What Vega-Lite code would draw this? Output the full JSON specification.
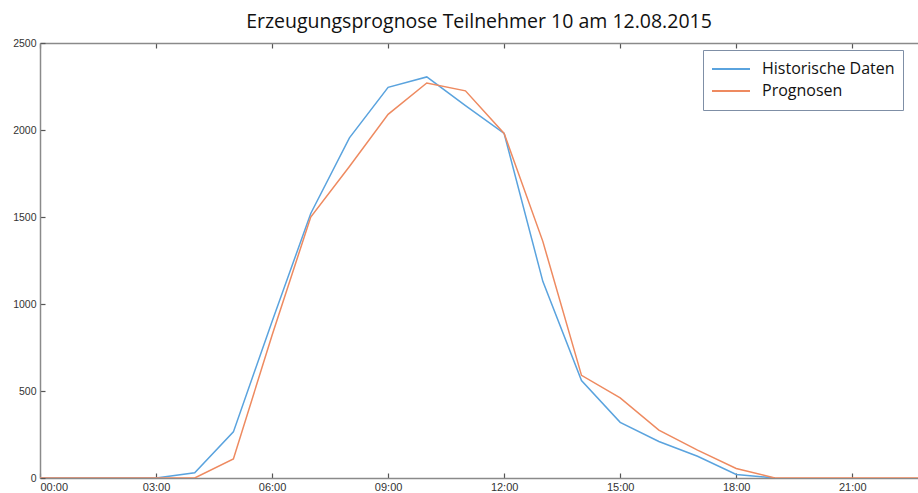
{
  "$schema": "https://vega.github.io/schema/vega-lite/v6.json",
  "autosize": "none",
  "width": 878,
  "height": 435,
  "padding": {"left": 40, "top": 43, "right": 0, "bottom": 15},
  "background": "white",
  "title": {"text": "Erzeugungsprognose Teilnehmer 10 am 12.08.2015", "font": "Open Sans", "fontSize": 19.5, "fontWeight": "normal", "color": "#111", "anchor": "middle", "offset": 6},
  "config": {
    "view": {"stroke": null},
    "axis": {"grid": false, "domainColor": "#8a8a8a", "domainWidth": 1.5, "tickColor": "#555", "tickWidth": 1.2, "labelFont": "Liberation Sans", "labelFontSize": 10.5, "labelColor": "#333", "title": null}
  },
  "data": {"values": [
    {"h":0,"v":0,"s":"Historische Daten"},{"h":1,"v":0,"s":"Historische Daten"},{"h":2,"v":0,"s":"Historische Daten"},{"h":3,"v":0,"s":"Historische Daten"},
    {"h":4,"v":30,"s":"Historische Daten"},{"h":5,"v":265,"s":"Historische Daten"},{"h":6,"v":900,"s":"Historische Daten"},{"h":7,"v":1520,"s":"Historische Daten"},
    {"h":8,"v":1955,"s":"Historische Daten"},{"h":9,"v":2245,"s":"Historische Daten"},{"h":10,"v":2305,"s":"Historische Daten"},{"h":11,"v":2140,"s":"Historische Daten"},
    {"h":12,"v":1980,"s":"Historische Daten"},{"h":13,"v":1130,"s":"Historische Daten"},{"h":14,"v":560,"s":"Historische Daten"},{"h":15,"v":320,"s":"Historische Daten"},
    {"h":16,"v":210,"s":"Historische Daten"},{"h":17,"v":125,"s":"Historische Daten"},{"h":18,"v":20,"s":"Historische Daten"},{"h":19,"v":0,"s":"Historische Daten"},
    {"h":0,"v":0,"s":"Prognosen"},{"h":1,"v":0,"s":"Prognosen"},{"h":2,"v":0,"s":"Prognosen"},{"h":3,"v":0,"s":"Prognosen"},
    {"h":4,"v":0,"s":"Prognosen"},{"h":5,"v":110,"s":"Prognosen"},{"h":6,"v":820,"s":"Prognosen"},{"h":7,"v":1500,"s":"Prognosen"},
    {"h":8,"v":1790,"s":"Prognosen"},{"h":9,"v":2090,"s":"Prognosen"},{"h":10,"v":2270,"s":"Prognosen"},{"h":11,"v":2225,"s":"Prognosen"},
    {"h":12,"v":1980,"s":"Prognosen"},{"h":13,"v":1360,"s":"Prognosen"},{"h":14,"v":590,"s":"Prognosen"},{"h":15,"v":460,"s":"Prognosen"},
    {"h":16,"v":275,"s":"Prognosen"},{"h":17,"v":160,"s":"Prognosen"},{"h":18,"v":55,"s":"Prognosen"},{"h":19,"v":0,"s":"Prognosen"},
    {"h":20,"v":0,"s":"Prognosen"},{"h":21,"v":0,"s":"Prognosen"},{"h":22,"v":0,"s":"Prognosen"},{"h":23,"v":0,"s":"Prognosen"},{"h":24,"v":0,"s":"Prognosen"}
  ]},
  "layer": [
    {
      "mark": {"type": "line", "strokeWidth": 1.5, "clip": true},
      "encoding": {
        "x": {"field": "h", "type": "quantitative", "scale": {"domain": [0, 22.7], "nice": false, "zero": false},
              "axis": {"orient": "bottom", "values": [0,3,6,9,12,15,18,21], "tickSize": -5, "labelPadding": 8, "labelExpr": "(datum.value < 10 ? '0' : '') + datum.value + ':00'", "labelFontSize": 11}},
        "y": {"field": "v", "type": "quantitative", "scale": {"domain": [0, 2500], "nice": false},
              "axis": {"values": [0,500,1000,1500,2000,2500], "format": "d", "tickSize": -5, "labelPadding": 9, "labelFlush": false}},
        "color": {"field": "s", "type": "nominal",
                  "scale": {"domain": ["Historische Daten", "Prognosen"], "range": ["#5AA3DE", "#EE8A60"]},
                  "legend": {"orient": "none", "legendX": 663, "legendY": 7, "title": null, "symbolType": "stroke", "symbolSize": 1444, "symbolStrokeWidth": 2, "labelFont": "Open Sans", "labelFontSize": 16, "labelColor": "#111", "strokeColor": "#7F8FA6", "fillColor": "white", "padding": 8, "rowPadding": 0, "clipHeight": 22, "labelOffset": 11}}
      }
    },
    {
      "mark": {"type": "line", "opacity": 0},
      "encoding": {
        "x": {"field": "h", "type": "quantitative", "axis": {"orient": "top", "values": [0,3,6,9,12,15,18,21], "tickSize": -5, "labels": false}},
        "y": {"field": "v", "type": "quantitative"}
      }
    }
  ],
  "resolve": {"axis": {"x": "independent", "y": "shared"}}
}
